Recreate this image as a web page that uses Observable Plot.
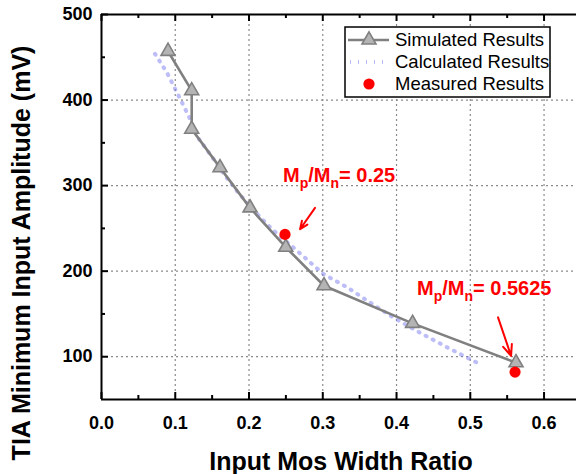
<!DOCTYPE html>
<html><head><meta charset="utf-8">
<script src="https://cdn.jsdelivr.net/npm/d3@7"></script>
<script src="https://cdn.jsdelivr.net/npm/@observablehq/plot@0.6"></script>
<style>html,body{margin:0;padding:0;background:#fff;} svg{display:block}</style>
</head><body><div id="chart"></div>
<script>
// ---- data ----
const simX = [0.0902, 0.1223, 0.1223, 0.1607, 0.2014, 0.2498, 0.3017, 0.4217, 0.5620];
const simY = [457, 411, 366, 321, 274, 228, 183, 139, 93];
const calcX = [0.0725, 0.0888, 0.1092, 0.120, 0.1308, 0.1512, 0.1647, 0.1851, 0.2108, 0.2325, 0.2597, 0.3003, 0.3332, 0.3736, 0.3953, 0.4319, 0.4685, 0.5092];
const calcY = [454, 432, 397, 378, 356, 332, 315, 292, 267, 248, 228, 197, 181, 158, 146, 128, 111, 93];
const measX = [0.2488, 0.5607];
const measY = [243, 82];
const seriesNames = ["Simulated Results", "Calculated Results", "Measured Results"];
const annoText = ["M_p/M_n= 0.25", "M_p/M_n= 0.5625"];
const annoX = [0.2461, 0.4278];
const annoY = [312, 180];
const arrowX1 = [0.2895, 0.5376], arrowY1 = [274, 146];
const arrowX2 = [0.2692, 0.5553], arrowY2 = [249, 101];
const xTicks = [0, 0.1, 0.2, 0.3, 0.4, 0.5, 0.6];
const xMinor = [0.05, 0.15, 0.25, 0.35, 0.45, 0.55];
const xGrid = [0.1, 0.2, 0.3, 0.4, 0.5, 0.6];
const yTicks = [100, 200, 300, 400, 500];
const yMinor = [150, 250, 350, 450];
const yGrid = [100, 200, 300, 400];
const xTitle = "Input Mos Width Ratio";
const yTitle = "TIA Minimum Input Amplitude (mV)";
const xDomain = [0, 0.644];
const yDomain = [50, 500];

const sim = simX.map((x, i) => ({x, y: simY[i]}));
const calc = calcX.map((x, i) => ({x, y: calcY[i]}));
const meas = measX.map((x, i) => ({x, y: measY[i]}));
const annos = annoText.map((t, i) => ({t, x: annoX[i], y: annoY[i]}));
const arrows = arrowX1.map((x1, i) => ({x1, y1: arrowY1[i], x2: arrowX2[i], y2: arrowY2[i]}));

const W = 576, H = 474, ML = 101, MT = 14, MR = 0, MB = 75;
const FH = H - MT - MB, FW = W - ML - MR;
const FONT = "'Liberation Sans', Arial, sans-serif";
const CALC_STYLE = {stroke: "#7c7cf0", width: 4, dash: "1,7", opacity: 0.5};

const chart = Plot.plot({
  width: W, height: H,
  marginLeft: ML, marginTop: MT, marginRight: MR, marginBottom: MB,
  style: {fontFamily: FONT, background: "white", color: "black"},
  x: {domain: xDomain},
  y: {domain: yDomain},
  marks: [
    Plot.ruleX(xGrid, {stroke: "#8a8a8a", strokeWidth: 1.2, strokeDasharray: "2,3"}),
    Plot.ruleY(yGrid, {stroke: "#8a8a8a", strokeWidth: 1.2, strokeDasharray: "2,3"}),
    // ticks pointing inward
    Plot.tickX(xTicks, {x: d => d, insetTop: FH - 7, stroke: "black", strokeWidth: 2}),
    Plot.tickX(xMinor, {x: d => d, insetTop: FH - 4, stroke: "black", strokeWidth: 2}),
    Plot.tickX(xTicks, {x: d => d, insetBottom: FH - 7, stroke: "black", strokeWidth: 2}),
    Plot.tickX(xMinor, {x: d => d, insetBottom: FH - 4, stroke: "black", strokeWidth: 2}),
    Plot.tickY(yTicks, {y: d => d, insetRight: FW - 7, stroke: "black", strokeWidth: 2}),
    Plot.tickY(yMinor, {y: d => d, insetRight: FW - 4, stroke: "black", strokeWidth: 2}),
    Plot.ruleX([xDomain[0]], {stroke: "black", strokeWidth: 2}),
    Plot.ruleY([yDomain[0]], {stroke: "black", strokeWidth: 2}),
    Plot.ruleY([yDomain[1]], {stroke: "black", strokeWidth: 2}),
    Plot.axisX({ticks: xTicks, tickSize: 0, tickPadding: 17, tickFormat: d3.format(".1f"), fontSize: 18, fontWeight: "bold", label: null}),
    Plot.axisY({ticks: yTicks, tickSize: 0, tickPadding: 9, tickFormat: d3.format("d"), fontSize: 18, fontWeight: "bold", label: null}),
    // series
    Plot.line(calc, {x: "x", y: "y", stroke: CALC_STYLE.stroke, strokeWidth: CALC_STYLE.width, strokeDasharray: CALC_STYLE.dash, strokeOpacity: CALC_STYLE.opacity}),
    Plot.line(sim, {x: "x", y: "y", stroke: "#808080", strokeWidth: 2.6}),
    Plot.dot(sim, {x: "x", y: "y", symbol: "triangle", r: 5.2, fill: "#b4b4b4", stroke: "#808080", strokeWidth: 1.6}),
    Plot.dot(meas, {x: "x", y: "y", r: 5.6, fill: "#ff0000", stroke: "none"}),
    // annotations
    Plot.arrow(arrows, {x1: "x1", y1: "y1", x2: "x2", y2: "y2", stroke: "#ff0000", strokeWidth: 2, headLength: 9, headAngle: 45}),
    Plot.text(annos, {x: "x", y: "y", text: "t", textAnchor: "start", fill: "#ff0000", fontSize: 20, fontWeight: "bold"}),
    // titles
    Plot.text([xTitle], {text: d => d, frameAnchor: "bottom", textAnchor: "middle", lineAnchor: "middle", dx: 2, dy: 62, fontSize: 25, fontWeight: "bold", fill: "black"}),
    Plot.text([yTitle], {text: d => d, frameAnchor: "left", textAnchor: "middle", lineAnchor: "middle", rotate: -90, dx: -80, dy: 46, fontSize: 25, fontWeight: "bold", fill: "black"})
  ]
});

const svg = d3.select(chart);
// subscripts in annotation labels
svg.selectAll("text").each(function () {
  const t = this.textContent;
  if (!t.includes("_")) return;
  const parts = t.split(/_(.)/);
  const sel = d3.select(this);
  sel.text(null);
  parts.forEach((p, i) => {
    const ts = sel.append("tspan").text(p);
    if (i % 2 === 1) ts.attr("font-size", 14).attr("dy", 6);
    else if (i > 0) ts.attr("dy", -6);
  });
});

// legend
const lg = svg.append("g").attr("font-family", FONT).attr("font-size", 18.5).attr("text-anchor", "start");
lg.append("rect").attr("x", 345).attr("y", 27).attr("width", 205).attr("height", 70)
  .attr("fill", "white").attr("stroke", "black").attr("stroke-width", 1.5);
const rows = [40, 62, 84];
lg.append("line").attr("x1", 348).attr("x2", 389).attr("y1", rows[0]).attr("y2", rows[0])
  .attr("stroke", "#808080").attr("stroke-width", 2.6);
lg.append("path").attr("d", d3.symbol(d3.symbolTriangle, Math.PI * 5.2 * 5.2)())
  .attr("transform", `translate(369,${rows[0]})`).attr("fill", "#b4b4b4").attr("stroke", "#808080").attr("stroke-width", 1.6);
lg.append("line").attr("x1", 350).attr("x2", 390).attr("y1", rows[1]).attr("y2", rows[1])
  .attr("stroke", CALC_STYLE.stroke).attr("stroke-width", CALC_STYLE.width).attr("stroke-dasharray", CALC_STYLE.dash).attr("stroke-opacity", CALC_STYLE.opacity);
lg.append("circle").attr("cx", 369).attr("cy", rows[2]).attr("r", 5.6).attr("fill", "#ff0000");
seriesNames.forEach((s, i) => {
  lg.append("text").attr("x", 395).attr("y", rows[i]).attr("dy", "0.35em").attr("fill", "black").attr("text-anchor", "start").text(s);
});

document.getElementById("chart").append(chart);
</script>
</body></html>
